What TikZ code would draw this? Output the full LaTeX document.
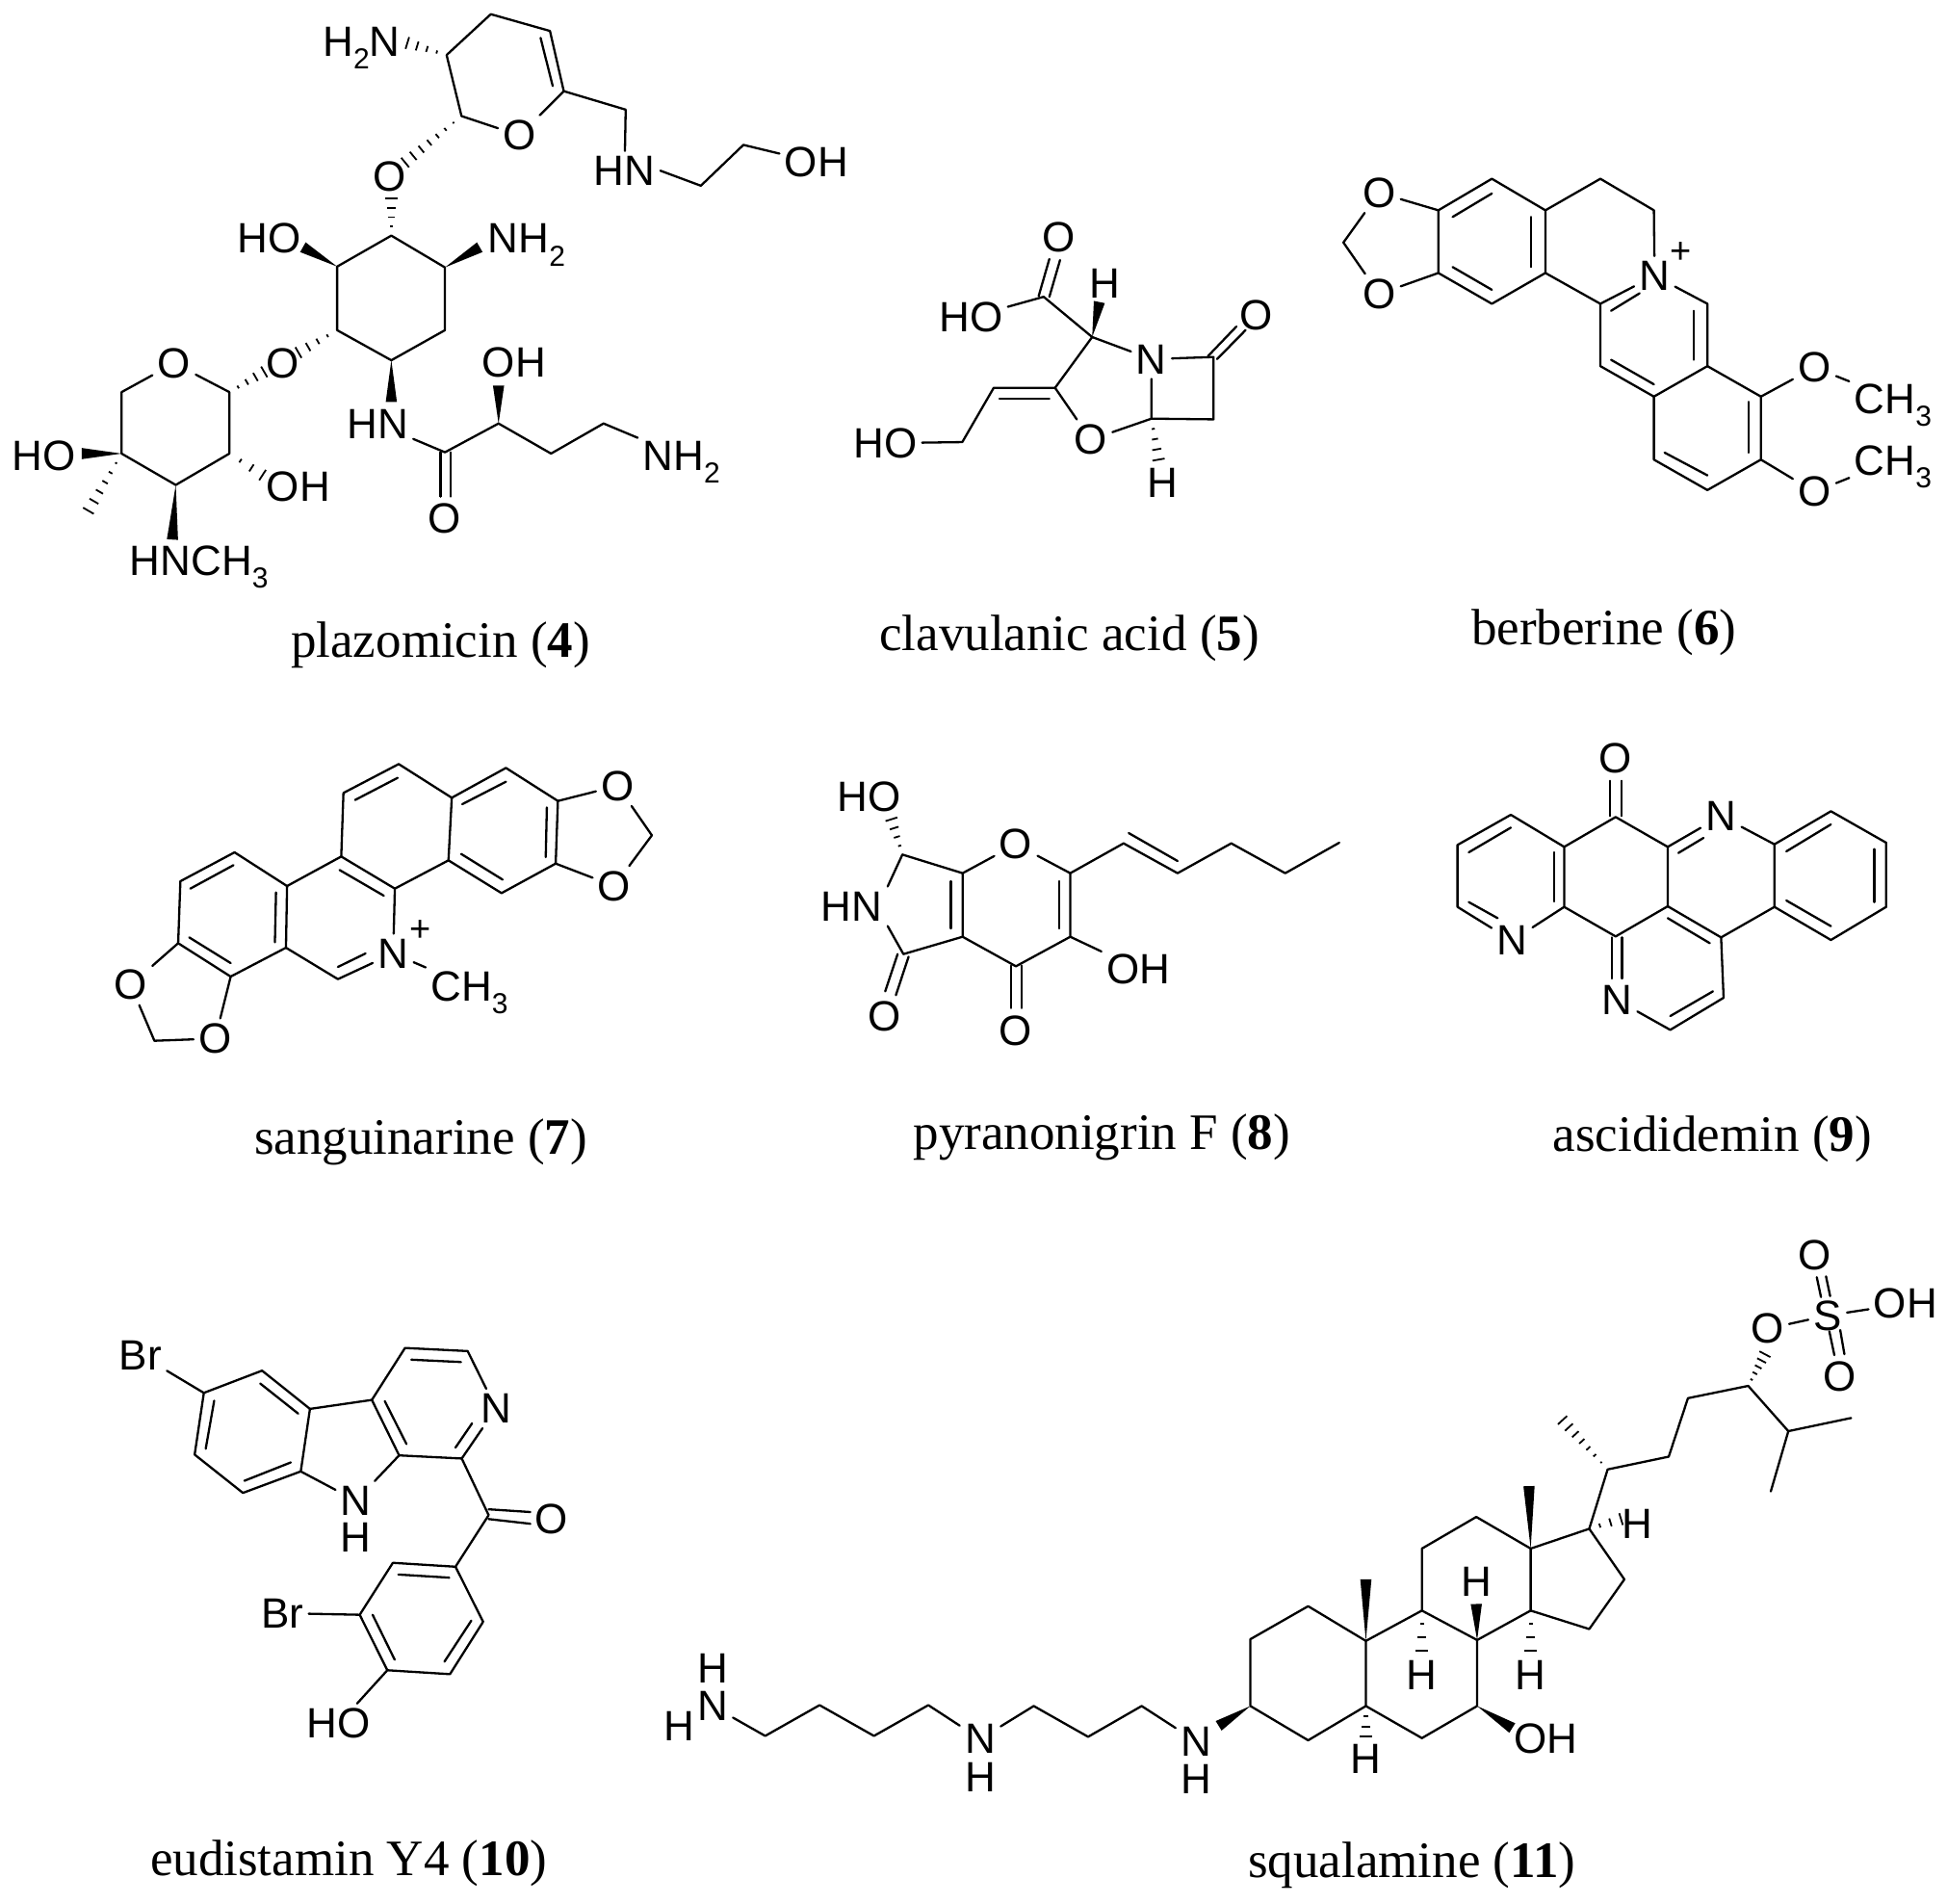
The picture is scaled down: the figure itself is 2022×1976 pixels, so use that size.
\documentclass[tikz,border=0pt]{standalone}
\usepackage{fontspec}
\setmainfont{Liberation Serif}
\newfontfamily\labsans{Liberation Sans}
\usetikzlibrary{calc}
\newcommand\labfont{\labsans\fontsize{22}{22}\selectfont}
\newcommand\capfont{\rmfamily\fontsize{26.5}{26.5}\selectfont}
\newcommand\sbs[1]{\smash{\raisebox{-.3em}{\fontsize{15}{15}\selectfont #1}}}
\newcommand\vtx[3]{\coordinate (#1) at (#2,#3);}
\newcommand\atm[4]{\node[atom] (#1) at (#2,#3) {#4};}
\newcommand\wdg[2]{\fill (#1) -- ($(#2)!2.9pt!90:(#1)$) -- ($(#2)!2.9pt!-90:(#1)$) -- cycle;}
\newcommand\hsh[3]{\foreach \i in {1,...,#3}{\pgfmathsetmacro\hT{\i/#3}\pgfmathsetmacro\hD{\hT*3.2}\draw[hashb] ($(#1)!\hT!(#2)!\hD pt!90:(#1)$) -- ($(#1)!\hT!(#2)!\hD pt!-90:(#1)$);}}
\tikzset{
 atom/.style={inner sep=2.5pt,font=\labfont,text=black},
 capt/.style={anchor=base,inner sep=0pt,font=\capfont,text=black},
 bond/.style={line width=1.15pt,line cap=round,line join=round,black},
 hashb/.style={line width=.9pt,black},
 chg/.style={inner sep=0pt,font=\labsans\fontsize{19}{19}\selectfont},
 zA/.style={shift={(0,0)},x=.2870pt,y=-.2232pt},
 zB/.style={shift={(860,130)},x=.3706pt,y=-.1818pt},
 zC/.style={shift={(80,740)},x=.2870pt,y=-.16667pt},
 zD/.style={shift={(1000,740)},x=.3259pt,y=-.16667pt},
 zE/.style={shift={(100,1340)},x=.1913pt,y=-.2028pt},
 zF/.style={shift={(660,1260)},x=.4344pt,y=-.2283pt},
 zG/.style={shift={(840,780)},x=.1786pt,y=-.16667pt},
}
\begin{document}
\begin{tikzpicture}[x=.5pt,y=-.5pt]
\useasboundingbox (0,0) rectangle (2022,1976);
\fill[white] (0,0) rectangle (2022,1976);
%% ---------- plazomicin (4)
\begin{scope}[zA]
\vtx{a1}{808}{128}\vtx{a2}{888}{33}\vtx{a3}{995}{72}\vtx{a4}{1020}{212}\vtx{a6}{835}{270}
\vtx{b1}{1132}{255}\vtx{b2}{1268}{432}\vtx{b3}{1345}{337}
\vtx{c1}{708}{548}\vtx{c2}{805}{622}\vtx{c3}{805}{768}\vtx{c4}{708}{838}\vtx{c5}{610}{768}\vtx{c6}{610}{620}
\vtx{d1}{415}{912}\vtx{d3}{220}{912}\vtx{d4}{220}{1055}\vtx{d5}{318}{1128}\vtx{d6}{415}{1055}
\vtx{e1}{805}{1052}\vtx{e2}{902}{985}\vtx{e3}{997}{1055}\vtx{e4}{1092}{985}
\atm{fnh}{654}{97}{H\sbs{2}N}
\atm{fo1}{940}{315}{O}
\atm{fhn}{1130}{397}{HN}
\atm{foh}{1477}{378}{OH}
\atm{fo2}{705}{410}{O}
\atm{fho}{487}{555}{HO}
\atm{fnh2}{953}{555}{NH\sbs{2}}
\atm{fo3}{512}{845}{O}
\atm{fo4}{315}{845}{O}
\atm{fho2}{80}{1060}{HO}
\atm{foh2}{540}{1132}{OH}
\atm{fme}{360}{1305}{HNCH\sbs{3}}
\atm{fhn2}{683}{986}{HN}
\atm{foh3}{930}{844}{OH}
\atm{fnh3}{1233}{1061}{NH\sbs{2}}
\atm{fo5}{805}{1205}{O}
\draw[bond] (a1)--(a2)--(a3)--(a4)--(fo1)--(a6)--(a1);
\draw[bond] (978,88)--(1000,200);
\draw[bond] (a4)--(b1)--(fhn);
\draw[bond] (fhn.east)--(b2)--(b3)--(foh);
\hsh{a1}{737,100}{4}
\hsh{a6}{733,378}{7}
\hsh{c1}{708,462}{4}
\draw[bond] (c1)--(c2)--(c3)--(c4)--(c5)--(c6)--(c1);
\wdg{c6}{548,575}
\wdg{c2}{868,575}
\hsh{c5}{540,820}{4}
\hsh{d1}{478,865}{4}
\draw[bond] (d1)--(fo4)--(d3)--(d4)--(d5)--(d6)--(d1);
\wdg{d4}{148,1055}
\hsh{d4}{160,1188}{6}
\hsh{d6}{475,1105}{3}
\wdg{d5}{312,1255}
\wdg{c4}{708,935}
\draw[bond] (fhn2)--(e1)--(e2)--(e3)--(e4)--(fnh3);
\wdg{e2}{902,897}
\draw[bond] (797,1052)--(797,1155);
\draw[bond] (815,1052)--(815,1155);
\node[capt] (cap4) at (797,1528) {plazomicin (\textbf{4})};
\end{scope}
%% ---------- clavulanic acid (5)
\begin{scope}[zB]
\vtx{f1}{370}{605}\vtx{g0}{302}{490}\vtx{h1}{540}{662}\vtx{h2}{540}{840}\vtx{h3}{453}{838}
\vtx{i1}{318}{750}\vtx{i2}{232}{750}\vtx{i3}{188}{905}
\atm{vh1}{388}{452}{H}
\atm{vho}{200}{548}{HO}
\atm{vo1}{323}{320}{O}
\atm{vn}{453}{668}{N}
\atm{vo2}{600}{542}{O}
\atm{vo3}{368}{898}{O}
\atm{vh2}{468}{1020}{H}
\atm{vho2}{80}{908}{HO}
\wdg{f1}{380,505}
\draw[bond] (vho)--(g0)--(f1)--(vn)--(h1)--(h2)--(h3)--(vn);
\draw[bond] (295,488)--(310,382);
\draw[bond] (310,490)--(325,385);
\draw[bond] (532,660)--(572,575);
\draw[bond] (545,668)--(585,585);
\draw[bond] (h3)--(vo3)--(i1)--(f1);
\hsh{h3}{463,955}{4}
\draw[bond] (i1)--(i2)--(i3)--(vho2);
\draw[bond] (310,782)--(240,782);
\node[capt] (cap5) at (338,1500) {clavulanic acid (\textbf{5})};
%% ---------- berberine (6)
\vtx{j1}{855}{243}\vtx{j2}{930}{153}\vtx{j3}{1005}{243}\vtx{j4}{1005}{422}\vtx{j5}{930}{510}\vtx{j6}{855}{422}
\vtx{jc}{722}{335}\vtx{k1}{1082}{153}\vtx{k2}{1157}{243}\vtx{l1}{1082}{510}
\vtx{m1}{1232}{510}\vtx{m2}{1232}{688}\vtx{n1}{1082}{688}\vtx{n2}{1157}{775}
\vtx{p1}{1307}{775}\vtx{p2}{1307}{955}\vtx{q1}{1232}{1042}\vtx{r1}{1157}{955}
\atm{bo1}{772}{193}{O}
\atm{bo2}{772}{482}{O}
\atm{bn}{1158}{430}{N}
\node[chg] (bplus) at (1195,365) {+};
\atm{bo3}{1382}{692}{O}
\atm{bo4}{1382}{1047}{O}
\atm{bme1}{1492}{781}{CH\sbs{3}}
\atm{bme2}{1492}{957}{CH\sbs{3}}
\draw[bond] (j1)--(j2)--(j3)--(j4)--(j5)--(j6)--(j1);
\draw[bond] (875,262)--(930,195);
\draw[bond] (985,262)--(985,405);
\draw[bond] (875,405)--(930,470);
\draw[bond] (j1)--(bo1)--(jc)--(bo2)--(j6);
\draw[bond] (j3)--(k1)--(k2)--(bn)--(m1)--(m2)--(n2)--(n1)--(l1)--(j4);
\draw[bond] (l1)--(bn);
\draw[bond] (1097,530)--(1137,480);
\draw[bond] (1213,530)--(1213,670);
\draw[bond] (1097,670)--(1157,740);
\draw[bond] (m2)--(p1)--(p2)--(q1)--(r1)--(n2);
\draw[bond] (1290,790)--(1290,935);
\draw[bond] (1232,1000)--(1172,935);
\draw[bond] (p1)--(bo3)--(bme1);
\draw[bond] (p2)--(bo4)--(bme2);
\node[capt] (cap6) at (1087,1485) {berberine (\textbf{6})};
\end{scope}
%% ---------- sanguinarine (7)
\begin{scope}[zC]
\vtx{sa}{285}{435}\vtx{sb}{187}{525}\vtx{sc}{183}{718}\vtx{sd}{278}{822}\vtx{se}{378}{732}\vtx{sf}{380}{540}
\vtx{sch}{140}{1022}\vtx{sg}{478}{448}\vtx{sh}{575}{548}\vtx{si}{472}{830}
\vtx{sj}{482}{250}\vtx{sk}{582}{160}\vtx{sl}{678}{265}\vtx{sm}{672}{460}
\vtx{sn}{776}{172}\vtx{so}{870}{275}\vtx{sp}{866}{470}\vtx{sq}{768}{562}\vtx{sr}{1040}{382}
\atm{so1}{97}{848}{O}
\atm{so2}{250}{1015}{O}
\atm{sN}{572}{750}{N}
\node[chg] (splus) at (622,680) {+};
\atm{sme}{710}{852}{CH\sbs{3}}
\atm{so3}{978}{228}{O}
\atm{so4}{972}{540}{O}
\draw[bond] (sa)--(sb)--(sc)--(sd)--(se)--(sf)--(sa);
\draw[bond] (283,475)--(205,548);
\draw[bond] (203,700)--(278,780);
\draw[bond] (358,715)--(360,560);
\draw[bond] (sc)--(so1)--(sch)--(so2)--(sd);
\draw[bond] (sf)--(sg)--(sh)--(sN)--(si)--(se);
\draw[bond] (475,490)--(555,570);
\draw[bond] (472,792)--(522,750);
\draw[bond] (sN)--(sme);
\draw[bond] (sg)--(sj)--(sk)--(sl)--(sm)--(sh);
\draw[bond] (503,272)--(580,203);
\draw[bond] (sl)--(sn)--(so)--(sp)--(sq)--(sm);
\draw[bond] (697,285)--(776,215);
\draw[bond] (850,295)--(848,450);
\draw[bond] (770,520)--(695,440);
\draw[bond] (so)--(so3)--(sr)--(so4)--(sp);
\node[capt] (cap7) at (622,1375) {sanguinarine (\textbf{7})};
\end{scope}
%% ---------- pyranonigrin F (8)
\begin{scope}[zG]
\vtx{pa}{272}{322}\vtx{pb}{447}{380}\vtx{pc}{760}{380}\vtx{pd}{760}{578}\vtx{pe}{602}{670}\vtx{pb2}{447}{578}\vtx{pf}{275}{632}
\vtx{pg}{915}{287}\vtx{ph}{1072}{380}\vtx{pi}{1228}{287}\vtx{pj}{1385}{380}\vtx{pk}{1542}{285}
\atm{pho}{176}{143}{HO}
\atm{po1}{602}{290}{O}
\atm{phn}{125}{483}{HN}
\atm{po2}{220}{825}{O}
\atm{po3}{602}{870}{O}
\atm{poh}{958}{678}{OH}
\hsh{pa}{240,212}{4}
\draw[bond] (pa)--(pb)--(po1)--(pc)--(pd)--(pe)--(pb2)--(pb);
\draw[bond] (413,405)--(413,552);
\draw[bond] (727,405)--(727,552);
\draw[bond] (pa)--(phn.north east);
\draw[bond] (phn.south east)--(pf)--(pb2);
\draw[bond] (258,632)--(222,748);
\draw[bond] (290,640)--(253,760);
\draw[bond] (587,668)--(587,800);
\draw[bond] (618,668)--(618,800);
\draw[bond] (pd)--(poh);
\draw[bond] (pc)--(pg)--(ph)--(pi)--(pj)--(pk);
\draw[bond] (930,255)--(1072,342);
\node[capt] (cap8) at (852,1240) {pyranonigrin F (\textbf{8})};
\end{scope}
%% ---------- ascididemin (9)
\begin{scope}[zD]
\vtx{s1}{1040}{325}\vtx{s2}{958}{418}\vtx{s3}{1123}{418}\vtx{t1}{873}{318}\vtx{t2}{788}{412}\vtx{t3}{788}{605}\vtx{t5}{958}{605}
\vtx{u0}{1040}{697}\vtx{v0}{1123}{603}\vtx{w1}{1293}{410}\vtx{w2}{1383}{307}\vtx{w3}{1471}{405}\vtx{w4}{1471}{605}\vtx{w5}{1383}{708}\vtx{w6}{1293}{605}
\vtx{x0}{1208}{700}\vtx{y0}{1212}{888}\vtx{z0}{1127}{988}
\atm{ao}{1040}{143}{O}
\atm{an1}{875}{710}{N}
\atm{an2}{1208}{322}{N}
\atm{an3}{1042}{895}{N}
\draw[bond] (1031,212)--(1031,322);
\draw[bond] (1049,212)--(1049,322);
\draw[bond] (s2)--(s1)--(s3)--(v0)--(u0)--(t5)--(s2)--(t1)--(t2)--(t3)--(an1)--(t5);
\draw[bond] (873,358)--(806,435);
\draw[bond] (806,590)--(852,640);
\draw[bond] (942,435)--(942,588);
\draw[bond] (s3)--(an2)--(w1)--(w2)--(w3)--(w4)--(w5)--(w6)--(w1);
\draw[bond] (1140,437)--(1180,390);
\draw[bond] (1312,432)--(1383,348);
\draw[bond] (1452,425)--(1452,590);
\draw[bond] (1383,665)--(1312,585);
\draw[bond] (v0)--(x0)--(w6);
\draw[bond] (1123,640)--(1190,718);
\draw[bond] (1034,700)--(1034,828);
\draw[bond] (1050,700)--(1050,828);
\draw[bond] (x0)--(y0)--(z0)--(an3);
\draw[bond] (1127,945)--(1195,868);
\node[capt] (cap9) at (1194,1365) {ascididemin (\textbf{9})};
\end{scope}
%% ---------- eudistamin Y4 (10)
\begin{scope}[zE]
\vtx{ea}{292}{262}\vtx{eb}{450}{205}\vtx{ec}{580}{303}\vtx{ed}{555}{463}\vtx{ee}{398}{518}\vtx{ef}{267}{420}
\vtx{eg}{748}{280}\vtx{eh}{822}{422}\vtx{ei}{838}{147}\vtx{ej}{1008}{155}\vtx{ek}{992}{430}\vtx{el}{1065}{575}
\vtx{em}{975}{707}\vtx{en}{805}{697}\vtx{eo}{715}{830}\vtx{ep}{790}{972}\vtx{eq}{960}{982}\vtx{er}{1050}{848}
\atm{ebr}{120}{165}{Br}
\atm{eN}{705}{538}{N}
\atm{eH}{705}{632}{H}
\atm{eN2}{1085}{302}{N}
\atm{eO}{1235}{585}{O}
\atm{ebr2}{505}{826}{Br}
\atm{eho}{658}{1109}{HO}
\draw[bond] (ebr)--(ea)--(eb)--(ec)--(ed)--(ee)--(ef)--(ea);
\draw[bond] (320,282)--(297,405);
\draw[bond] (445,238)--(548,315);
\draw[bond] (528,440)--(402,487);
\draw[bond] (ec)--(eg)--(eh)--(eN)--(ed);
\draw[bond] (783,283)--(842,393);
\draw[bond] (eg)--(ei)--(ej)--(eN2)--(ek)--(eh);
\draw[bond] (855,177)--(990,183);
\draw[bond] (975,402)--(1020,340);
\draw[bond] (ek)--(el)--(em)--(en)--(eo)--(ep)--(eq)--(er)--(em);
\draw[bond] (1065,560)--(1178,567);
\draw[bond] (1065,585)--(1178,597);
\draw[bond] (958,735)--(820,727);
\draw[bond] (750,830)--(810,945);
\draw[bond] (945,950)--(1018,845);
\draw[bond] (ebr2)--(eo);
\draw[bond] (ep)--(eho);
\node[capt] (cap10) at (685,1497) {eudistamin Y4 (\textbf{10})};
\end{scope}
%% ---------- squalamine (11)
\begin{scope}[zF]
\vtx{qa1}{155}{1188}\vtx{qa2}{220}{1118}\vtx{qa3}{285}{1188}\vtx{qa4}{350}{1118}
\vtx{qb1}{476}{1120}\vtx{qb2}{541}{1190}\vtx{qb3}{605}{1120}
\vtx{qc1}{735}{1120}\vtx{qc2}{735}{968}\vtx{qc3}{804}{893}\vtx{qc4}{873}{972}\vtx{qc5}{873}{1120}\vtx{qc6}{804}{1198}
\vtx{qd1}{940}{1193}\vtx{qd2}{1006}{1120}\vtx{qd3}{1006}{970}\vtx{qd4}{940}{903}
\vtx{qe1}{940}{762}\vtx{qe2}{1005}{690}\vtx{qe3}{1070}{762}\vtx{qe4}{1070}{903}
\vtx{qf1}{1140}{717}\vtx{qf2}{1182}{832}\vtx{qf3}{1140}{945}
\vtx{qg1}{1162}{582}\vtx{qg2}{1235}{553}\vtx{qg3}{1258}{420}\vtx{qg4}{1330}{392}\vtx{qg5}{1378}{495}\vtx{qg6}{1453}{465}\vtx{qg7}{1357}{632}
\atm{qN1}{92}{1120}{N}
\atm{qH1}{92}{1035}{H}
\atm{qH2}{52}{1165}{H}
\atm{qN2}{412}{1195}{N}
\atm{qH3}{412}{1282}{H}
\atm{qN3}{670}{1200}{N}
\atm{qH4}{670}{1287}{H}
\atm{qH5}{1005}{838}{H}
\atm{qH6}{940}{1050}{H}
\atm{qH7}{1070}{1050}{H}
\atm{qH8}{873}{1240}{H}
\atm{qOH}{1088}{1195}{OH}
\atm{qH9}{1197}{705}{H}
\atm{qO1}{1353}{262}{O}
\atm{qS}{1425}{232}{S}
\atm{qOH2}{1518}{205}{OH}
\atm{qO2}{1410}{95}{O}
\atm{qO3}{1440}{370}{O}
\draw[bond] (qN1)--(qa1)--(qa2)--(qa3)--(qa4)--(qN2)--(qb1)--(qb2)--(qb3)--(qN3);
\wdg{qc1}{697,1165}
\draw[bond] (qc1)--(qc2)--(qc3)--(qc4)--(qc5)--(qc6)--(qc1);
\draw[bond] (qc5)--(qd1)--(qd2)--(qd3)--(qd4)--(qc4);
\draw[bond] (qd4)--(qe1)--(qe2)--(qe3)--(qe4)--(qd3);
\draw[bond] (qe3)--(qf1)--(qf2)--(qf3)--(qe4);
\wdg{qc4}{873,832}
\wdg{qe3}{1068,620}
\wdg{qd3}{1005,888}
\hsh{qd4}{940,995}{3}
\hsh{qe4}{1070,995}{3}
\hsh{qc5}{873,1190}{3}
\wdg{qd2}{1048,1170}
\hsh{qf1}{1178,695}{3}
\draw[bond] (qf1)--(qg1)--(qg2)--(qg3)--(qg4)--(qg5)--(qg6);
\draw[bond] (qg5)--(qg7);
\hsh{qg1}{1108,470}{7}
\hsh{qg4}{1350,320}{5}
\draw[bond] (qO1)--(qS)--(qOH2);
\draw[bond] (1412,145)--(1417,190);
\draw[bond] (1423,143)--(1428,188);
\draw[bond] (1427,268)--(1433,322);
\draw[bond] (1440,265)--(1445,320);
\node[capt] (cap11) at (928,1510) {squalamine (\textbf{11})};
\end{scope}
\end{tikzpicture}
\end{document}
